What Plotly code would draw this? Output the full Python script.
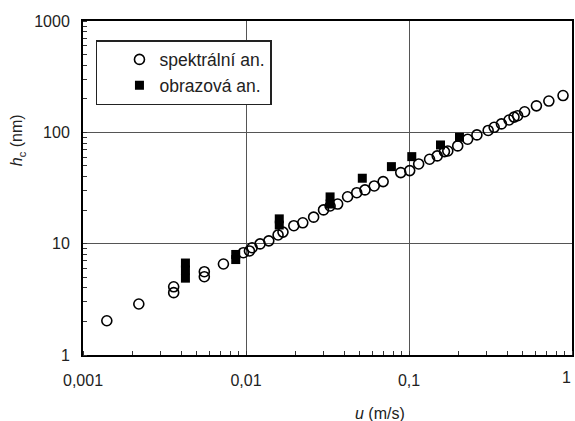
import plotly.graph_objects as go

# spektrální analýza (open circles)
spek_u = [0.0014, 0.0022, 0.0036, 0.0036, 0.00555, 0.00555, 0.00727, 0.00963, 0.0105, 0.0109,
          0.0122, 0.0138, 0.01573, 0.01686, 0.01965, 0.0223, 0.026, 0.0299, 0.0328, 0.0365,
          0.042, 0.0478, 0.0537, 0.0612, 0.0694, 0.089, 0.101, 0.1146, 0.1337, 0.149,
          0.165, 0.173, 0.199, 0.229, 0.261, 0.306, 0.333, 0.369, 0.411, 0.441,
          0.464, 0.512, 0.605, 0.721, 0.881]
spek_h = [2.03, 2.87, 4.1, 3.63, 5.6, 5.05, 6.57, 8.3, 8.6, 9.2,
          9.95, 10.6, 11.97, 12.7, 14.5, 15.4, 17.3, 20.1, 21.8, 22.7,
          26.4, 28.7, 30.4, 33.0, 36.1, 43.5, 45.3, 52.0, 57.3, 61.4,
          67.1, 68.0, 75.5, 86.7, 94.8, 104, 111, 119, 129, 137,
          141, 153, 173, 191, 214]

# obrazová analýza (filled squares)
obr_u = [0.00425, 0.00425, 0.00425, 0.00865, 0.00865, 0.016, 0.016, 0.0328, 0.0328,
         0.0517, 0.078, 0.104, 0.156, 0.204]
obr_h = [4.9, 5.8, 6.7, 7.2, 8.0, 14.7, 16.7, 22.7, 26.3,
         38.7, 49.2, 60.5, 77.0, 90.3]

y_tickvals = [1, 10, 100, 1000]
y_ticktext = ["1", "10", "100", "1000"]
x_tickvals = [0.001, 0.01, 0.1]
x_ticktext = ["0,001", "0,01", "0,1"]
x_last_tick = "1"

FONT = "Arial, Liberation Sans, sans-serif"

fig = go.Figure()
fig.add_trace(go.Scatter(
    x=spek_u, y=spek_h, mode="markers", name="spektrální an.", legendgroup="a",
    marker=dict(symbol="circle-open", size=10, color="black", line=dict(width=1.6, color="black")),
))
fig.add_trace(go.Scatter(
    x=obr_u, y=obr_h, mode="markers", name="obrazová an.", legendgroup="b",
    marker=dict(symbol="square", size=9, color="black", line=dict(width=0)),
))

axis_common = dict(
    type="log", showline=True, linecolor="black", linewidth=2, mirror=True,
    showgrid=True, gridcolor="#555555", gridwidth=1, zeroline=False,
    ticks="", tickfont=dict(family=FONT, size=16, color="#222222"),
    minor=dict(ticks="inside", ticklen=4, tickcolor="#333333", tickwidth=1, showgrid=False, dtick="D1"),
)

fig.update_xaxes(range=[-3, 0], tickvals=x_tickvals, ticktext=x_ticktext,
                 ticklabelstandoff=10, **axis_common)
fig.update_yaxes(range=[0, 3], tickvals=y_tickvals, ticktext=y_ticktext,
                 ticklabelstandoff=8, **axis_common)

fig.update_layout(
    width=575, height=421,
    margin=dict(l=83, r=1, t=21, b=66),
    paper_bgcolor="white", plot_bgcolor="white",
    font=dict(family=FONT, size=16, color="#222222"),
    showlegend=True,
    legend=dict(
        x=0.0265, y=0.943, xanchor="left", yanchor="top",
        bgcolor="white", bordercolor="#222222", borderwidth=1.5,
        font=dict(family=FONT, size=17.5, color="#222222"),
        tracegroupgap=0, indentation=22,
    ),
    annotations=[
        dict(text="<i>h</i><sub>c</sub> (nm)", xref="paper", yref="paper",
             x=(17 - 83) / 491, y=(355 - 140) / 334, textangle=-90, showarrow=False,
             font=dict(family=FONT, size=16, color="#222222"), xanchor="center", yanchor="middle"),
        dict(text="<i>u</i> (m/s)", xref="paper", yref="paper",
             x=(381 - 83) / 491, y=-(413 - 355) / 334, showarrow=False,
             font=dict(family=FONT, size=16, color="#222222"), xanchor="center", yanchor="middle"),
        dict(text=x_last_tick, xref="paper", yref="paper", x=1.002, y=-(377 - 355) / 334,
             showarrow=False, xanchor="right", yanchor="middle",
             font=dict(family=FONT, size=16, color="#222222")),
    ],
)

fig.write_html("out.html")
